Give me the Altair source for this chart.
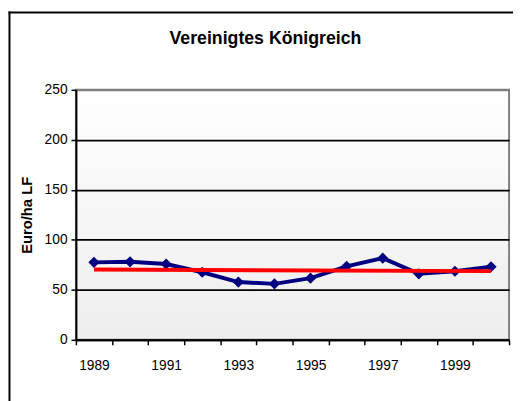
import altair as alt
import pandas as pd

years = [1989, 1990, 1991, 1992, 1993, 1994, 1995, 1996, 1997, 1998, 1999, 2000]
values = [77.5, 78.0, 75.8, 67.6, 57.8, 56.0, 61.7, 73.5, 81.7, 66.0, 68.6, 73.1]
trend_years = [1989, 2000]
trend_values = [70.3, 68.7]
y_ticks = [0, 50, 100, 150, 200, 250]

df = pd.DataFrame({"Jahr": years, "Wert": values})
tdf = pd.DataFrame({"Jahr": trend_years, "Wert": trend_values})

W, H = 440, 254
FONT = "Liberation Sans"

xscale = alt.Scale(domain=years, paddingInner=0, paddingOuter=0)
yscale = alt.Scale(domain=[0, 250], nice=False)

x_axis = alt.Axis(
    title=None, labelAngle=0, tickBand="extent",
    labelExpr="datum.value % 2 == 1 ? datum.label : ''",
    labelOverlap=False, labelFont=FONT, labelFontSize=14, labelColor="black",
    labelPadding=14, tickSize=5, tickColor="black", tickWidth=1.5,
    domainColor="black", domainWidth=2, grid=False, zindex=1,
)
y_axis = alt.Axis(
    title="Euro/ha LF", titleFont=FONT, titleFontSize=15, titleFontWeight="bold",
    titleColor="black", titlePadding=10,
    values=y_ticks, labelFont=FONT, labelFontSize=14, labelColor="black",
    labelPadding=4, tickSize=5, tickColor="black", tickWidth=1.5,
    domainColor="black", domainWidth=2,
    grid=True, gridWidth=1.8,
    gridColor={"condition": {"test": "datum.value == 250", "value": "#808080"}, "value": "black"},
    zindex=1,
)

one = alt.Data(values=[{}])

frame_left = alt.Chart(one).mark_rule(color="black", strokeWidth=2).encode(
    x=alt.value(-67.5), y=alt.value(-79.5), y2=alt.value(H + 120)
)
frame_top = alt.Chart(one).mark_rule(color="black", strokeWidth=2).encode(
    y=alt.value(-78.5), x=alt.value(-68.5), x2=alt.value(W + 120)
)

bg = alt.Chart(one).mark_rect(
    color=alt.LinearGradient(
        gradient="linear", x1=0, x2=0, y1=0, y2=1,
        stops=[alt.GradientStop(color="#ffffff", offset=0),
               alt.GradientStop(color="#eeeeee", offset=1)],
    ),
    stroke="#808080", strokeWidth=2,
).encode(x=alt.value(0), x2=alt.value(W), y=alt.value(0), y2=alt.value(H))

line = alt.Chart(df).mark_line(
    color="#000080", strokeWidth=4,
    point=alt.OverlayMarkDef(shape="diamond", size=130, color="#000080", filled=True),
).encode(
    x=alt.X("Jahr:O", scale=xscale, axis=x_axis),
    y=alt.Y("Wert:Q", scale=yscale, axis=y_axis),
)

trend = alt.Chart(tdf).mark_line(color="#ff0000", strokeWidth=4).encode(
    x=alt.X("Jahr:O", scale=xscale),
    y=alt.Y("Wert:Q", scale=yscale),
)

chart = alt.layer(frame_left, frame_top, bg, line, trend).properties(
    width=W, height=H,
    autosize="none",
    padding={"left": 69, "top": 80, "right": 4, "bottom": 59},
    title=alt.TitleParams(
        "Vereinigtes Königreich", font=FONT, fontSize=18, fontWeight="bold",
        color="black", anchor="middle", frame="group", dx=-27.5,
        baseline="alphabetic", offset=0, dy=51.5,
    ),
).configure_view(strokeWidth=0)

chart.save("out.html", embed_options={"renderer": "svg", "actions": False})
